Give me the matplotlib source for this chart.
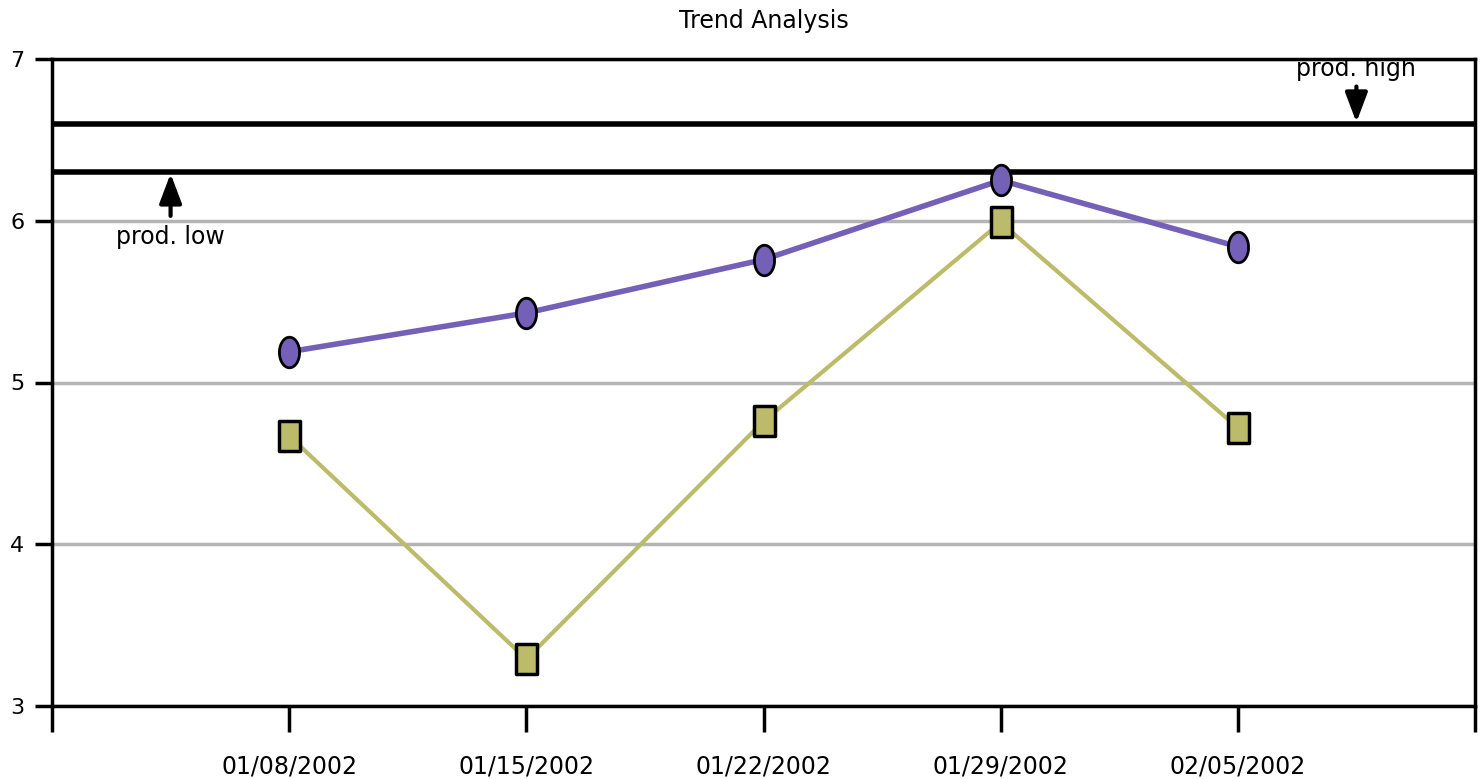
import matplotlib
matplotlib.use("Agg")
import matplotlib.pyplot as plt
import numpy as np
from matplotlib.path import Path

dates = ["01/08/2002", "01/15/2002", "01/22/2002", "01/29/2002", "02/05/2002"]
series_purple = [5.19, 5.43, 5.76, 6.25, 5.84]
series_olive = [4.67, 3.29, 4.76, 5.99, 4.72]
prod_high = 6.6
prod_low = 6.3
y_ticks = [3, 4, 5, 6, 7]

plt.rcParams['font.family'] = ['DejaVu Sans']

fig = plt.figure(figsize=(14.8, 7.79), dpi=100)
ax = fig.add_axes([52/1480, 1-706/779, (1475-52)/1480, (706-59)/779])

x = np.arange(1, len(dates) + 1)

t = np.linspace(0, 2*np.pi, 40)
ellipse = Path(np.column_stack([0.66*np.cos(t), np.sin(t)]))
rect = Path([(-0.72, -1), (0.72, -1), (0.72, 1), (-0.72, 1), (-0.72, -1)],
            [Path.MOVETO, Path.LINETO, Path.LINETO, Path.LINETO, Path.CLOSEPOLY])

ax.plot(x, series_olive, color='#BBBB6A', lw=3, marker=rect, ms=21,
        mfc='#BBBB6A', mec='black', mew=2.5, zorder=3)
ax.plot(x, series_purple, color='#7560B8', lw=4, marker=ellipse, ms=22,
        mfc='#7560B8', mec='black', mew=2, zorder=4)

ax.axhline(prod_high, color='black', lw=4, zorder=2)
ax.axhline(prod_low, color='black', lw=4, zorder=2)

ax.set_xlim(0, 6)
ax.set_ylim(3, 7)
ax.set_yticks(y_ticks)
ax.set_yticklabels([str(v) for v in y_ticks], fontsize=16)
ax.set_xticks(np.arange(0, 7))
ax.set_xticklabels([""] + dates + [""], fontsize=17)
ax.tick_params(axis='x', length=19, width=2.5, direction='out', pad=16)
ax.tick_params(axis='y', length=12, width=2.5, direction='out', pad=8)

ax.yaxis.grid(True, color='#B4B4B4', lw=2.5)
ax.set_axisbelow(True)
for s in ax.spines.values():
    s.set_linewidth(2.5)

arrow_style = '-|>,head_length=0.45,head_width=0.17'
ax.annotate("", xy=(0.5, prod_low), xytext=(0.5, 6.03),
            arrowprops=dict(arrowstyle=arrow_style, color='black', lw=3,
                            mutation_scale=40, shrinkA=0, shrinkB=1), zorder=5)
ax.text(0.5, 5.9, "prod. low", ha='center', va='center', fontsize=17)

ax.annotate("", xy=(5.5, prod_high), xytext=(5.5, 6.83),
            arrowprops=dict(arrowstyle=arrow_style, color='black', lw=3,
                            mutation_scale=40, shrinkA=0, shrinkB=1), zorder=5)
ax.text(5.5, 6.94, "prod. high", ha='center', va='center', fontsize=17, clip_on=True)

ax.set_title("Trend Analysis", fontsize=17, pad=22)

fig.savefig("out.png", dpi=100)
